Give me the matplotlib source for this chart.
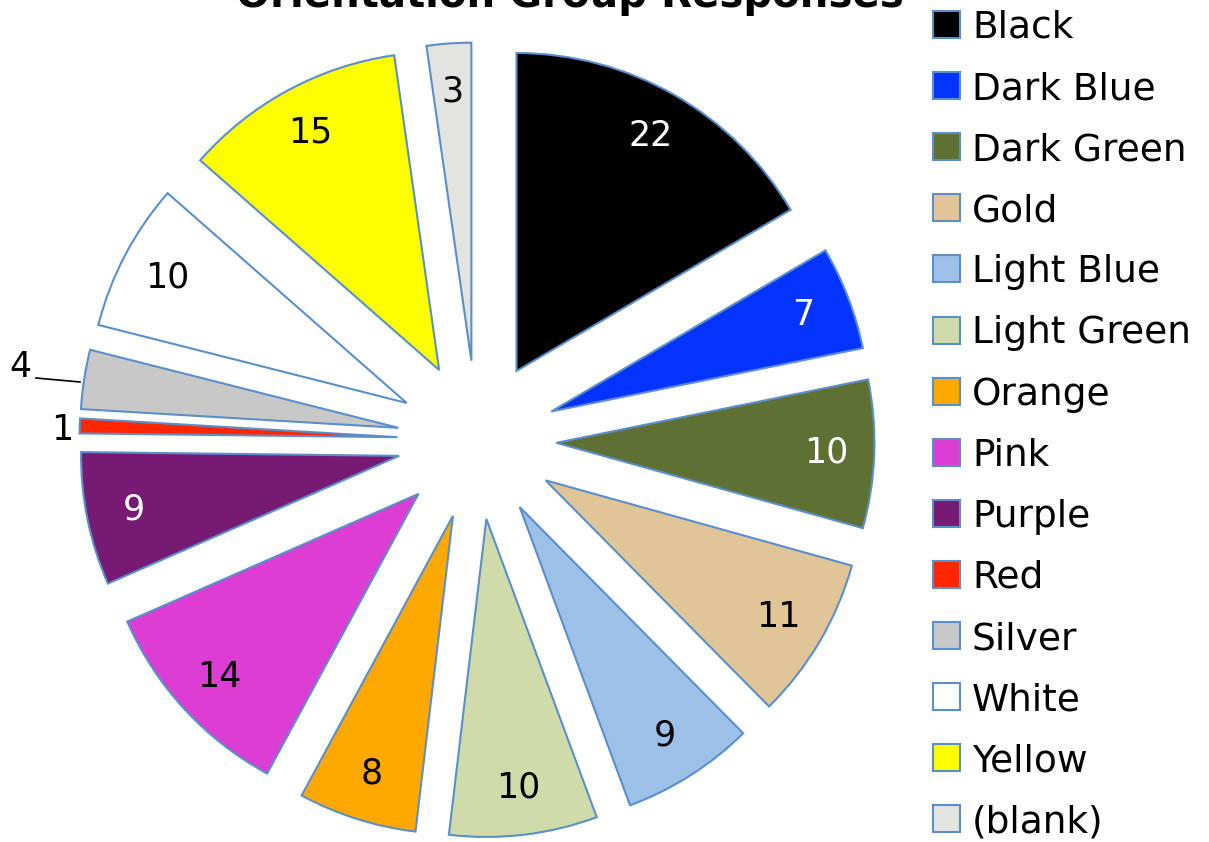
import matplotlib
matplotlib.use("Agg")
import matplotlib.pyplot as plt
from matplotlib.patches import Rectangle

# data (clockwise from 12 o'clock)
categories = ['Black', 'Dark Blue', 'Dark Green', 'Gold', 'Light Blue', 'Light Green',
              'Orange', 'Pink', 'Purple', 'Red', 'Silver', 'White', 'Yellow', '(blank)']
counts = [22, 7, 10, 11, 9, 10, 8, 14, 9, 1, 4, 10, 15, 3]
colors = ['#000000', '#0433FF', '#5E7032', '#E0C596', '#9DC0E8', '#CFDCAA',
          '#FFA800', '#DC3DD2', '#771A73', '#FF2600', '#C8C8C8', '#FFFFFF',
          '#FFFF00', '#E3E3DF']
white_text = ['Black', 'Dark Blue', 'Dark Green', 'Purple']
outside = ['Red', 'Silver']

W, H = 1209, 842
cx, cy, R = 477, 440, 318   # pie centre and radius in pixels

fig = plt.figure(figsize=(W / 100, H / 100), dpi=100)
ax = fig.add_axes([0, 0, 1, 1])
total = sum(counts)

wedges, texts, autotexts = ax.pie(
    counts, colors=colors, startangle=90, counterclock=False,
    explode=[0.25] * len(counts), radius=1,
    autopct=lambda p: '%d' % round(p * total / 100), pctdistance=0.85,
    wedgeprops=dict(edgecolor='#5B8FCB', linewidth=1.5),
    textprops=dict(fontsize=25, family='DejaVu Sans'))

for cat, t in zip(categories, autotexts):
    t.set_color('white' if cat in white_text else 'black')
    if cat in outside:
        t.set_visible(False)

def d(px, py):
    return ((px - cx) / R, (cy - py) / R)

# small slices labelled outside
ax.text(*d(20, 367), str(counts[categories.index('Silver')]), fontsize=25,
        ha='center', va='center')
ax.plot(*zip(d(36, 378), d(80, 382)), color='black', lw=1.2)
ax.text(*d(62, 430), str(counts[categories.index('Red')]), fontsize=25,
        ha='center', va='center')

ax.set_xlim((0 - cx) / R, (W - cx) / R)
ax.set_ylim((cy - H) / R, cy / R)
ax.set_aspect('equal')
ax.axis('off')

fig.text(570 / W, 1 - 7 / H, 'Orientation Group Responses', fontsize=29,
         fontweight='bold', ha='center', va='baseline')

# legend
for i, (cat, col) in enumerate(zip(categories, colors)):
    yc = 28 + i * 61.1
    fig.patches.append(Rectangle((933 / W, 1 - (yc + 10) / H), 27 / W, 27 / H,
                                 transform=fig.transFigure, facecolor=col,
                                 edgecolor='#5B8FCB', linewidth=1.5))
    fig.text(972 / W, 1 - yc / H, cat, fontsize=27, ha='left', va='center')

fig.savefig('out.png', dpi=100)
